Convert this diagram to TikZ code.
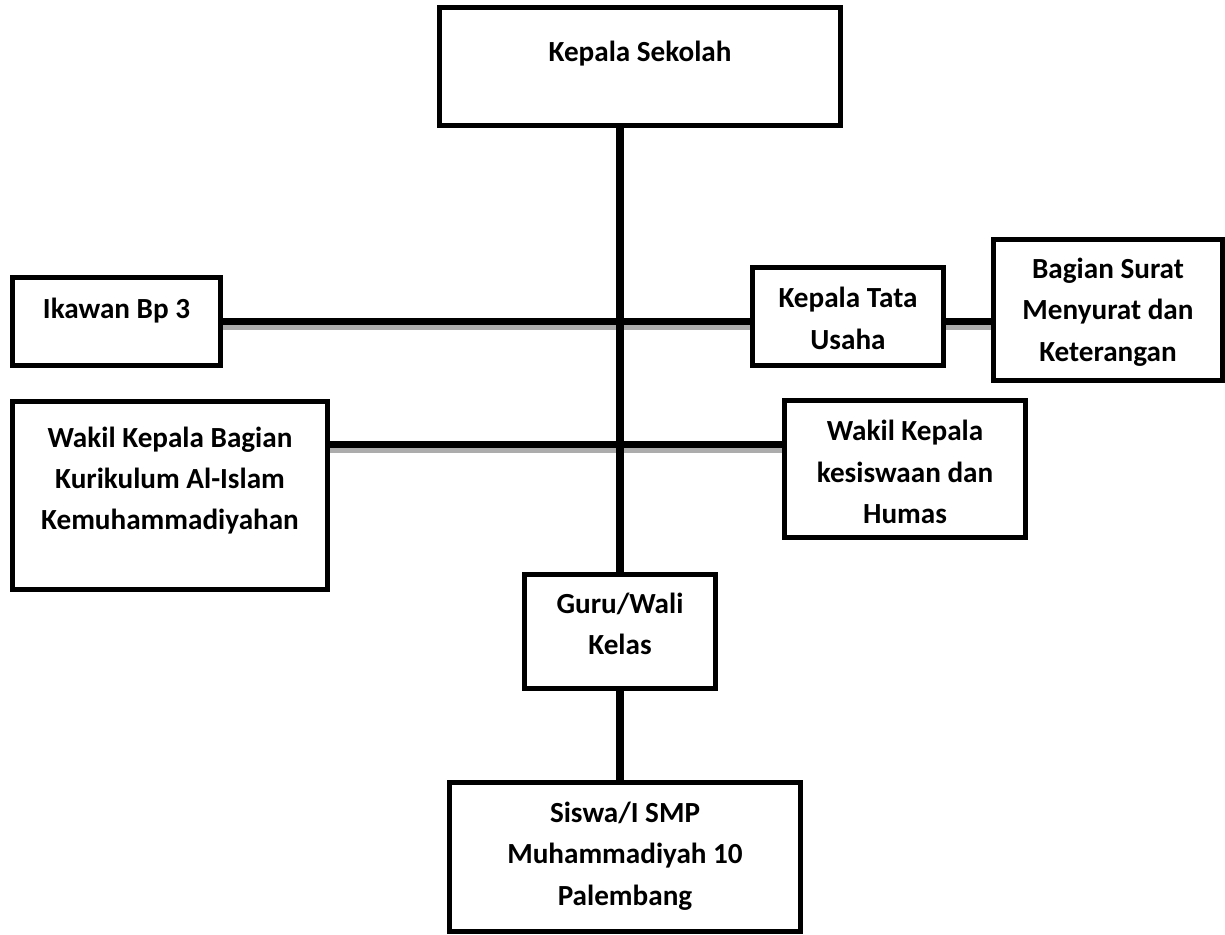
\documentclass[tikz,border=0pt]{standalone}
\usepackage{fontspec}
\setmainfont{Carlito}
\usetikzlibrary{positioning}

% text sits in the upper part of each box
\newcommand{\boxtext}[4]{\parbox[c][#2][t]{#1}{\centering\vspace*{#3}\strut #4}}

\begin{document}
\begin{tikzpicture}[x=0.02cm, y=-0.02cm,
  unit/.style={draw, line width=0.1cm, inner sep=0pt,
    font=\fontsize{16.6}{23.6}\selectfont\bfseries},
  link/.style={line width=0.15cm},
  shade/.style={line width=0.15cm, gray!65, transform canvas={yshift=-0.09cm}}]

\useasboundingbox (0,0) rectangle (1225,934);

\node[unit] (ks) at (640,66.5) {\boxtext{8.02cm}{2.36cm}{0.49cm}{Kepala Sekolah}};
\node[unit] (ik) at (116.5,321.5) {\boxtext{4.16cm}{1.76cm}{0.23cm}{Ikawan Bp 3}};
\node[unit] (kt) at (848,316.5) {\boxtext{3.83cm}{1.96cm}{0.22cm}{Kepala Tata\\Usaha}};
\node[unit] (bs) at (1108,310) {\boxtext{4.57cm}{2.83cm}{0.2cm}{Bagian Surat\\Menyurat dan\\Keterangan}};
\node[unit] (wk) at (170,495.5) {\boxtext{6.3cm}{3.78cm}{0.34cm}{Wakil Kepala Bagian\\Kurikulum Al-Islam\\Kemuhammadiyahan}};
\node[unit] (ws) at (905,469) {\boxtext{4.83cm}{2.75cm}{0.23cm}{Wakil Kepala\\kesiswaan dan\\Humas}};
\node[unit] (gw) at (620,631.5) {\boxtext{3.84cm}{2.3cm}{0.2cm}{Guru/Wali\\Kelas}};
\node[unit] (sw) at (625,857) {\boxtext{7.03cm}{2.99cm}{0.22cm}{Siswa/I SMP\\Muhammadiyah 10\\Palembang}};

\path (wk.north east) ++(0,46) coordinate (wkline);

% shadows under the horizontal lines
\draw[shade] (ik.east) -- (ik.east -| kt.west);
\draw[shade] (ik.east -| kt.east) -- (ik.east -| bs.west);
\draw[shade] (wkline) -- (wkline -| ws.west);

\draw[link] (ik.east) -- (ik.east -| kt.west);
\draw[link] (ik.east -| kt.east) -- (ik.east -| bs.west);
\draw[link] (wkline) -- (wkline -| ws.west);
\draw[link] (gw.north) -- (gw.north |- ks.south);
\draw[link] (gw.south) -- (gw.south |- sw.north);
\end{tikzpicture}
\end{document}
